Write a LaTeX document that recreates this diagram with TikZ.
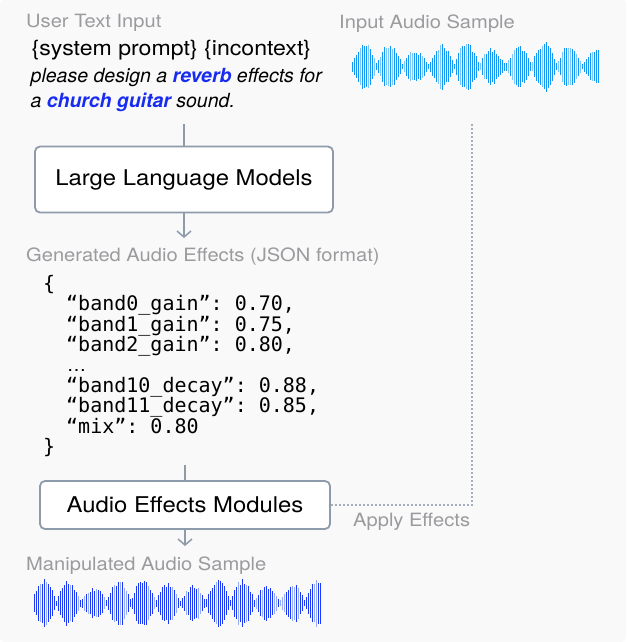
\documentclass[tikz,border=0pt]{standalone}
\usepackage{fontspec}
\setmainfont[FakeStretch=1.1]{TeX Gyre Heros}
\newfontfamily\plainheros{TeX Gyre Heros}
\setmonofont{DejaVu Sans Mono}
\usetikzlibrary{arrows.meta}
\definecolor{bgc}{RGB}{249,249,250}
\definecolor{lbl}{RGB}{155,155,158}
\definecolor{edge}{RGB}{142,155,171}
\definecolor{promptblue}{RGB}{24,44,240}
\definecolor{wvA}{RGB}{18,152,243}
\definecolor{wvB}{RGB}{125,198,248}
\definecolor{wvC}{RGB}{28,58,244}
\definecolor{wvD}{RGB}{150,172,246}
\tikzset{
  graylbl/.style={anchor=base west, inner sep=0pt, text=lbl, font=\fontsize{18.3}{22}\selectfont},
  prompt/.style={anchor=base west, inner sep=0pt, text=black, font=\fontsize{21}{24}\selectfont},
  promptit/.style={anchor=base west, inner sep=0pt, text=black, font=\plainheros\fontsize{19.5}{24}\selectfont\itshape},
  json/.style={anchor=base west, inner sep=0pt, text=black, font=\fontsize{20}{22}\ttfamily},
  modbox/.style={draw=edge, line width=1.8pt, fill=white, rounded corners=5pt,
    inner sep=0pt, font=\fontsize{21.7}{25}\selectfont},
  conn/.style={draw=edge, line width=1.5pt},
  arr/.style={conn, -{Straight Barb[length=6pt,width=14pt,line width=1.5pt]}},
  dotline/.style={draw=edge!80, line width=2pt, dash pattern=on 2pt off 2pt}
}
\begin{document}
\begin{tikzpicture}[x=1pt,y=-1pt]
\useasboundingbox (0,0) rectangle (626,642);
\fill[white] (0,0) rectangle (626,642);
\fill[bgc, rounded corners=4pt] (0,0) rectangle (626,642);

% top texts
\node[graylbl] (uti) at (26,28) {User Text Input};
\node[prompt] (p1) at (31.5,55.5) {\{system prompt\} \{incontext\}};
\node[promptit] (p2) at (30.5,82.5) {please design a \textbf{\color{promptblue}reverb} effects for};
\node[promptit] (p3) at (30.5,107.5) {a \textbf{\color{promptblue}church guitar} sound.};
\node[graylbl] (ias) at (339,29) {Input Audio Sample};

% input waveform
\pgfmathsetseed{11}
\foreach \i in {0,...,123}{
  \pgfmathsetmacro{\wamp}{26*(0.1+0.9*abs(sin(\i*14+8))*(0.55+0.45*abs(sin(\i*4.3+40))))*(0.75+0.25*rnd)}
  \pgfmathrandominteger{\wsel}{0}{99}
  \ifnum\wsel<22 \def\wcol{wvB}\else\def\wcol{wvA}\fi
  \fill[fill=\wcol] (352+2*\i,66.7-\wamp) rectangle (353.2+2*\i,66.7+\wamp);
}

% LLM box
\coordinate (ptop) at (184,124);
\node[modbox, minimum width=298pt, minimum height=66pt] (llm) at (184,179.5) {Large Language Models};
\draw[conn] (ptop) -- (llm.north);
\coordinate (arr1) at (184,238);
\draw[arr] (llm.south) -- (arr1);

\node[graylbl] (gae) at (26,261.5) {Generated Audio Effects (JSON format)};

% JSON
\node[json] (j0) at (43,290) {\{};
\node[json] (j1) at (66,310.5) {“band0\_gain”: 0.70,};
\node[json] (j2) at (66,331) {“band1\_gain”: 0.75,};
\node[json] (j3) at (66,351.5) {“band2\_gain”: 0.80,};
\node[anchor=base west, inner sep=0pt, font=\plainheros\fontsize{19}{22}\selectfont] (j4) at (67,371) {…};
\node[json] (j5) at (66,392) {“band10\_decay”: 0.88,};
\node[json] (j6) at (66,412.5) {“band11\_decay”: 0.85,};
\node[json] (j7) at (66,433) {“mix”: 0.80};
\node[json] (j8) at (43,453) {\}};

% AEM box
\coordinate (jbot) at (185,465);
\node[modbox, minimum width=290pt, minimum height=48pt] (aem) at (185,505) {Audio Effects Modules};
\draw[conn] (jbot) -- (aem.north);
\coordinate (arr2) at (185,546);
\draw[arr] (aem.south) -- (arr2);

% dotted apply path
\coordinate (dtop) at (472,124);
\draw[dotline] (aem.east) -- (aem.east -| dtop) -- (dtop);
\node[graylbl] (ape) at (353,526) {Apply Effects};

\node[graylbl] (mas) at (26,570.5) {Manipulated Audio Sample};

% output waveform
\pgfmathsetseed{5}
\foreach \i in {0,...,143}{
  \pgfmathsetmacro{\wamp}{26*(0.1+0.9*abs(sin(\i*14.5+20))*(0.55+0.45*abs(sin(\i*3.9+70))))*(0.75+0.25*rnd)}
  \pgfmathrandominteger{\wsel}{0}{99}
  \ifnum\wsel<22 \def\wcol{wvD}\else\def\wcol{wvC}\fi
  \fill[fill=\wcol] (34+2*\i,603.3-\wamp) rectangle (35.2+2*\i,603.3+\wamp);
}
\end{tikzpicture}
\end{document}
